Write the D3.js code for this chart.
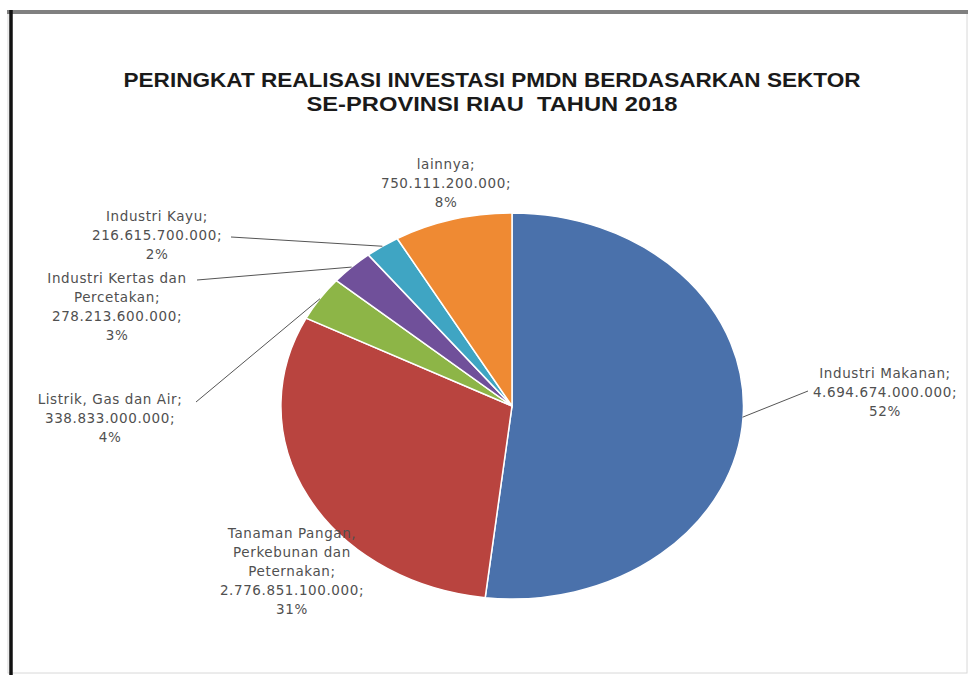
<!DOCTYPE html>
<html><head><meta charset="utf-8">
<script src="https://cdn.jsdelivr.net/npm/d3@7"></script>
<style>
html,body{margin:0;padding:0;background:#fff;}
svg{display:block;}
</style></head>
<body>
<svg id="chart" width="970" height="675"></svg>
<script>
// ---- data ----
const categories = ["Industri Makanan", "Tanaman Pangan, Perkebunan dan Peternakan", "Listrik, Gas dan Air", "Industri Kertas dan Percetakan", "Industri Kayu", "lainnya"];
const values = [4694674000000, 2776851100000, 338833000000, 278213600000, 216615700000, 750111200000];
const valueLabels = ["4.694.674.000.000;", "2.776.851.100.000;", "338.833.000.000;", "278.213.600.000;", "216.615.700.000;", "750.111.200.000;"];
const percentLabels = ["52%", "31%", "4%", "3%", "2%", "8%"];
const nameLines = [["Industri Makanan;"], ["Tanaman Pangan,", "Perkebunan dan", "Peternakan;"], ["Listrik, Gas dan Air;"], ["Industri Kertas dan", "Percetakan;"], ["Industri Kayu;"], ["lainnya;"]];
const colors = ["#4a71ab", "#b9443f", "#8db547", "#70509a", "#3fa5c3", "#ef8a33"];
const titleLines = ["PERINGKAT REALISASI INVESTASI PMDN BERDASARKAN SEKTOR", "SE-PROVINSI RIAU  TAHUN 2018"];

// ---- layout ----
const svg = d3.select("#chart");
const cx = 512, cy = 406, rx = 231, ry = 193;

// frame
svg.append("rect").attr("x", 8).attr("y", 11).attr("width", 959).attr("height", 662)
  .attr("fill", "none").attr("stroke", "#d8d8d8").attr("stroke-width", 1);
svg.append("line").attr("x1", 7).attr("x2", 968).attr("y1", 12).attr("y2", 12)
  .attr("stroke", "#808080").attr("stroke-width", 4);
svg.append("line").attr("x1", 11).attr("x2", 11).attr("y1", 10).attr("y2", 675)
  .attr("stroke", "#111").attr("stroke-width", 3.5);

// title
const titleY = [80, 104], titleW = [737, 371];
titleLines.forEach((t, i) => {
  svg.append("text").attr("x", 492).attr("y", titleY[i]).attr("text-anchor", "middle")
    .attr("dominant-baseline", "central")
    .attr("xml:space", "preserve").style("white-space", "pre")
    .attr("font-family", "'Liberation Sans', Arial, sans-serif").attr("font-weight", "bold")
    .attr("font-size", 20).attr("fill", "#1a1a1a")
    .attr("textLength", titleW[i]).attr("lengthAdjust", "spacingAndGlyphs")
    .text(t);
});

// pie
const pie = d3.pie().sort(null).value(d => d)(values);
const arc = d3.arc().innerRadius(0).outerRadius(1);
const g = svg.append("g").attr("transform", `translate(${cx},${cy}) scale(${rx},${ry})`);
g.selectAll("path").data(pie).join("path")
  .attr("d", arc)
  .attr("fill", (d, i) => colors[i])
  .attr("stroke", "#fff").attr("stroke-width", 1.5)
  .attr("vector-effect", "non-scaling-stroke");

// edge point of slice (mid angle) on ellipse
function edge(d) {
  const a = (d.startAngle + d.endAngle) / 2;
  return [cx + rx * Math.sin(a), cy - ry * Math.cos(a)];
}

// labels: center x, first line y, leader end (or null)
const labelPos = [
  {x: 885, y: 373, lead: [808, 391]},
  {x: 292, y: 533, lead: null},
  {x: 110, y: 399, lead: [196, 402]},
  {x: 117, y: 278, lead: [197, 280]},
  {x: 157, y: 216, lead: [231, 237]},
  {x: 446, y: 164, lead: null}
];
const lh = 19;
pie.forEach((d, i) => {
  const p = labelPos[i];
  const lines = nameLines[i].concat([valueLabels[i], percentLabels[i]]);
  const t = svg.append("text").attr("text-anchor", "middle")
    .attr("font-family", "'DejaVu Sans', Verdana, sans-serif").attr("font-size", 13.5)
    .attr("fill", "#505050").attr("letter-spacing", 0.6);
  lines.forEach((s, j) => {
    t.append("tspan").attr("x", p.x).attr("y", p.y + j * lh)
      .attr("dominant-baseline", "central").text(s);
  });
  if (p.lead) {
    const e = edge(d);
    svg.append("line").attr("x1", p.lead[0]).attr("y1", p.lead[1])
      .attr("x2", e[0]).attr("y2", e[1])
      .attr("stroke", "#555").attr("stroke-width", 1);
  }
});
</script>
</body></html>
